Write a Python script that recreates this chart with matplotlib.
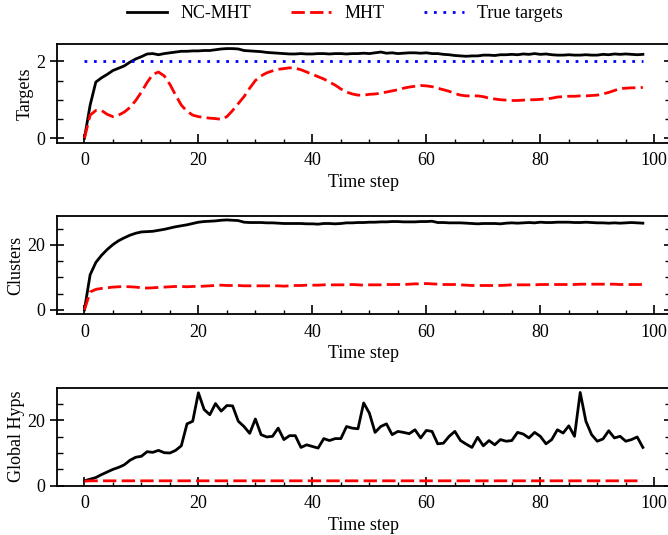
import numpy as np
import matplotlib
matplotlib.use("Agg")
import matplotlib.pyplot as plt
from matplotlib.ticker import MultipleLocator

plt.rcParams['font.family'] = ['Liberation Serif', 'DejaVu Serif']
plt.rcParams['font.size'] = 13

steps = np.arange(99)

# estimated number of targets
targets_nc = [0, 0.86, 1.46, 1.57, 1.66, 1.76, 1.82, 1.88, 1.98, 2.06,
              2.12, 2.19, 2.2, 2.17, 2.2, 2.22, 2.24, 2.26, 2.26, 2.27,
              2.27, 2.28, 2.28, 2.3, 2.32, 2.33, 2.33, 2.32, 2.28, 2.27,
              2.26, 2.25, 2.23, 2.22, 2.21, 2.2, 2.19, 2.19, 2.2, 2.19,
              2.19, 2.2, 2.2, 2.19, 2.2, 2.2, 2.19, 2.2, 2.2, 2.21,
              2.2, 2.22, 2.24, 2.21, 2.22, 2.2, 2.21, 2.22, 2.22, 2.21,
              2.22, 2.2, 2.2, 2.18, 2.17, 2.15, 2.14, 2.13, 2.14, 2.14,
              2.16, 2.16, 2.15, 2.17, 2.17, 2.18, 2.17, 2.19, 2.18, 2.2,
              2.18, 2.19, 2.17, 2.16, 2.16, 2.17, 2.16, 2.16, 2.17, 2.16,
              2.16, 2.18, 2.17, 2.19, 2.18, 2.19, 2.18, 2.17, 2.18]
targets_mht = [0, 0.6, 0.72, 0.72, 0.62, 0.56, 0.6, 0.68, 0.8, 0.98,
               1.2, 1.45, 1.66, 1.72, 1.62, 1.4, 1.12, 0.86, 0.7, 0.6,
               0.56, 0.54, 0.52, 0.51, 0.49, 0.56, 0.72, 0.9, 1.08, 1.3,
               1.5, 1.62, 1.7, 1.75, 1.79, 1.81, 1.83, 1.82, 1.78, 1.72,
               1.66, 1.6, 1.54, 1.46, 1.38, 1.28, 1.2, 1.15, 1.12, 1.12,
               1.14, 1.15, 1.17, 1.2, 1.23, 1.26, 1.3, 1.33, 1.35, 1.37,
               1.36, 1.34, 1.3, 1.26, 1.22, 1.16, 1.12, 1.1, 1.1, 1.1,
               1.08, 1.04, 1.02, 1.0, 0.99, 0.98, 0.98, 0.99, 1.0, 1.0,
               1.01, 1.02, 1.04, 1.07, 1.08, 1.09, 1.09, 1.1, 1.1, 1.11,
               1.12, 1.15, 1.19, 1.24, 1.29, 1.3, 1.31, 1.31, 1.32]
true_targets = [2] * 99

# number of clusters
clusters_nc = [0, 10.8, 14.6, 16.8, 18.6, 20.1, 21.3, 22.2, 23.0, 23.6,
               24.0, 24.1, 24.2, 24.5, 24.8, 25.2, 25.6, 25.9, 26.2, 26.6,
               27.0, 27.2, 27.3, 27.4, 27.6, 27.7, 27.6, 27.5, 27.0, 26.9,
               26.9, 26.9, 26.8, 26.8, 26.7, 26.6, 26.6, 26.6, 26.6, 26.5,
               26.5, 26.4, 26.6, 26.6, 26.5, 26.6, 26.8, 26.8, 26.9, 26.9,
               27.0, 27.0, 27.1, 27.1, 27.2, 27.2, 27.1, 27.1, 27.1, 27.2,
               27.2, 27.3, 26.9, 26.9, 26.8, 26.8, 26.8, 26.7, 26.6, 26.5,
               26.6, 26.6, 26.6, 26.5, 26.7, 26.8, 26.7, 26.8, 26.9, 26.8,
               27.0, 26.9, 26.9, 27.0, 27.0, 27.0, 26.9, 26.9, 27.0, 26.9,
               26.8, 26.8, 26.7, 26.8, 26.7, 26.8, 26.9, 26.8, 26.7]
clusters_mht = [0, 5.5, 6.3, 6.6, 6.8, 7.0, 7.1, 7.2, 7.1, 7.0,
                6.8, 6.7, 6.8, 6.9, 7.0, 7.1, 7.2, 7.2, 7.1, 7.2,
                7.2, 7.3, 7.4, 7.5, 7.6, 7.5, 7.5, 7.5, 7.4, 7.4,
                7.4, 7.4, 7.4, 7.4, 7.4, 7.3, 7.4, 7.5, 7.5, 7.6,
                7.6, 7.6, 7.7, 7.7, 7.7, 7.7, 7.7, 7.8, 7.7, 7.6,
                7.7, 7.7, 7.7, 7.8, 7.8, 7.8, 7.8, 7.9, 8.0, 8.0,
                8.1, 8.0, 7.9, 7.8, 7.8, 7.8, 7.7, 7.6, 7.5, 7.5,
                7.5, 7.5, 7.5, 7.5, 7.6, 7.7, 7.7, 7.7, 7.7, 7.7,
                7.8, 7.8, 7.8, 7.8, 7.8, 7.8, 7.8, 7.9, 7.9, 7.9,
                7.9, 7.9, 7.9, 7.9, 7.8, 7.8, 7.8, 7.8, 7.8]

# number of global hypotheses
hyps_nc = [1.5, 2.0, 2.5, 3.4, 4.2, 5.0, 5.6, 6.4, 7.8, 8.7,
           9.0, 10.4, 10.2, 10.8, 10.1, 10.0, 10.8, 12.2, 18.9, 19.7,
           28.4, 23.3, 21.7, 25.1, 22.8, 24.5, 24.4, 19.7, 18.1, 16.0,
           20.4, 15.6, 14.9, 15.1, 17.6, 14.1, 15.3, 15.3, 11.7, 12.5,
           12.0, 11.5, 14.4, 13.8, 14.4, 14.4, 18.1, 17.6, 17.4, 25.3,
           22.2, 16.3, 18.1, 18.9, 15.6, 16.6, 16.3, 15.9, 17.1, 14.6,
           16.9, 16.6, 12.8, 13.0, 15.1, 16.6, 13.8, 12.7, 11.7, 14.8,
           12.2, 13.8, 12.5, 14.1, 13.6, 13.8, 16.3, 15.8, 14.6, 16.3,
           15.1, 12.8, 14.1, 17.1, 16.1, 18.3, 15.1, 28.5, 19.7, 15.6,
           13.6, 14.3, 16.8, 14.6, 15.1, 13.6, 14.1, 14.9, 11.7]
hyps_mht = [1.4] + [1.5] * 98

fig = plt.figure(figsize=(6.68, 5.35), dpi=100)
left, width = 0.0846, 0.9196
ax1 = fig.add_axes([left, 0.7333, width, 0.1845])
ax2 = fig.add_axes([left, 0.4125, width, 0.1843])
ax3 = fig.add_axes([left, 0.0921, width, 0.1832])

lw = 2.0
dash = (0, (4.8, 1.9))
dots = (0, (1, 2.4))

l_nc, = ax1.plot(steps, targets_nc, color='black', lw=lw, label='NC-MHT')
l_mht, = ax1.plot(steps, targets_mht, color='red', lw=lw, linestyle=dash, label='MHT')
l_true, = ax1.plot(steps, true_targets, color='blue', lw=lw, linestyle=dots, label='True targets')

ax2.plot(steps, clusters_nc, color='black', lw=lw)
ax2.plot(steps, clusters_mht, color='red', lw=lw, linestyle=dash)

ax3.plot(steps, hyps_nc, color='black', lw=lw)
ax3.plot(steps, hyps_mht, color='red', lw=lw, linestyle=dash)

ax1.set_ylim(-0.117, 2.45)
ax2.set_ylim(-1.38, 29.0)
ax3.set_ylim(0.0, 29.95)

ax1.yaxis.set_major_locator(MultipleLocator(2))
ax1.yaxis.set_minor_locator(MultipleLocator(0.5))
for ax in (ax2, ax3):
    ax.yaxis.set_major_locator(MultipleLocator(20))
    ax.yaxis.set_minor_locator(MultipleLocator(5))

for ax, lab in zip((ax1, ax2, ax3), ('Targets', 'Clusters', 'Global Hyps')):
    ax.set_xlim(-4.9, 102.9)
    ax.xaxis.set_major_locator(MultipleLocator(20))
    ax.xaxis.set_minor_locator(MultipleLocator(5))
    ax.set_xlabel('Time step', labelpad=3)
    ax.set_ylabel(lab, labelpad=2)
    ax.tick_params(axis='x', which='both', direction='in', top=False, pad=7)
    ax.tick_params(axis='x', which='major', length=6.5, width=1.2)
    ax.tick_params(axis='x', which='minor', length=3.2, width=1.0)
    ax.tick_params(axis='y', which='both', right=True)
    ax.tick_params(axis='y', which='major', direction='inout', length=10, width=1.2, pad=3)
    ax.tick_params(axis='y', which='minor', direction='in', length=4, width=1.0)
    for s in ax.spines.values():
        s.set_linewidth(1.3)

fig.legend(handles=[l_nc, l_mht, l_true], loc='center',
           bbox_to_anchor=(345 / 668, 1 - 13.5 / 535), ncol=3, frameon=False,
           handlelength=2.2, handletextpad=0.75, columnspacing=2.2)

fig.savefig('out.png', dpi=100)
